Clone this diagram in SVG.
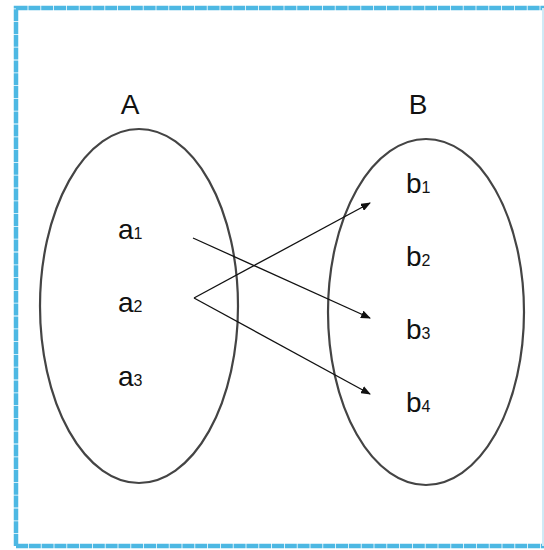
<svg xmlns="http://www.w3.org/2000/svg" width="544" height="550" viewBox="0 0 544 550">
<defs>
<marker id="arr" markerWidth="10" markerHeight="8" refX="9" refY="4" orient="auto" markerUnits="userSpaceOnUse">
<path d="M0,0 L10,4 L0,8 Z" fill="#111"/>
</marker>
<style>
.set{fill:none;stroke:#444;stroke-width:2.2}
.lbl{font-family:"Liberation Sans",Arial,sans-serif;font-size:28px;fill:#111}
.sub{font-size:16px}
.edge{stroke:#111;stroke-width:1.3;fill:none;marker-end:url(#arr)}
.brd{fill:none;stroke:#4DB8E3;stroke-width:4.5;stroke-dasharray:12 0.8}
</style>
</defs>
<rect x="0" y="0" width="544" height="550" fill="#fff"/>
<path class="brd" d="M16,546 L16,8 L544,8"/>
<path class="brd" d="M16,546 L544,546" stroke-width="4"/>
<path d="M543,8 L543,546" fill="none" stroke="#CFEAF6" stroke-width="2"/>
<g id="setA">
<ellipse class="set" cx="139" cy="306" rx="99" ry="177"/>
<text class="lbl" x="130" y="114" text-anchor="middle">A</text>
</g>
<g id="setB">
<ellipse class="set" cx="426" cy="312" rx="98" ry="173"/>
<text class="lbl" x="418" y="114" text-anchor="middle">B</text>
</g>
<g id="a1"><text class="lbl" x="118" y="239">a<tspan class="sub">1</tspan></text></g>
<g id="a2"><text class="lbl" x="118" y="312">a<tspan class="sub">2</tspan></text></g>
<g id="a3"><text class="lbl" x="118" y="386">a<tspan class="sub">3</tspan></text></g>
<g id="b1"><text class="lbl" x="406" y="193">b<tspan class="sub">1</tspan></text></g>
<g id="b2"><text class="lbl" x="406" y="266">b<tspan class="sub">2</tspan></text></g>
<g id="b3"><text class="lbl" x="406" y="339">b<tspan class="sub">3</tspan></text></g>
<g id="b4"><text class="lbl" x="406" y="412">b<tspan class="sub">4</tspan></text></g>
<g id="connectors">
<line class="edge" x1="193" y1="238" x2="370" y2="318"/>
<line class="edge" x1="194" y1="298" x2="370" y2="203"/>
<line class="edge" x1="194" y1="298" x2="370" y2="394"/>
</g>
</svg>
